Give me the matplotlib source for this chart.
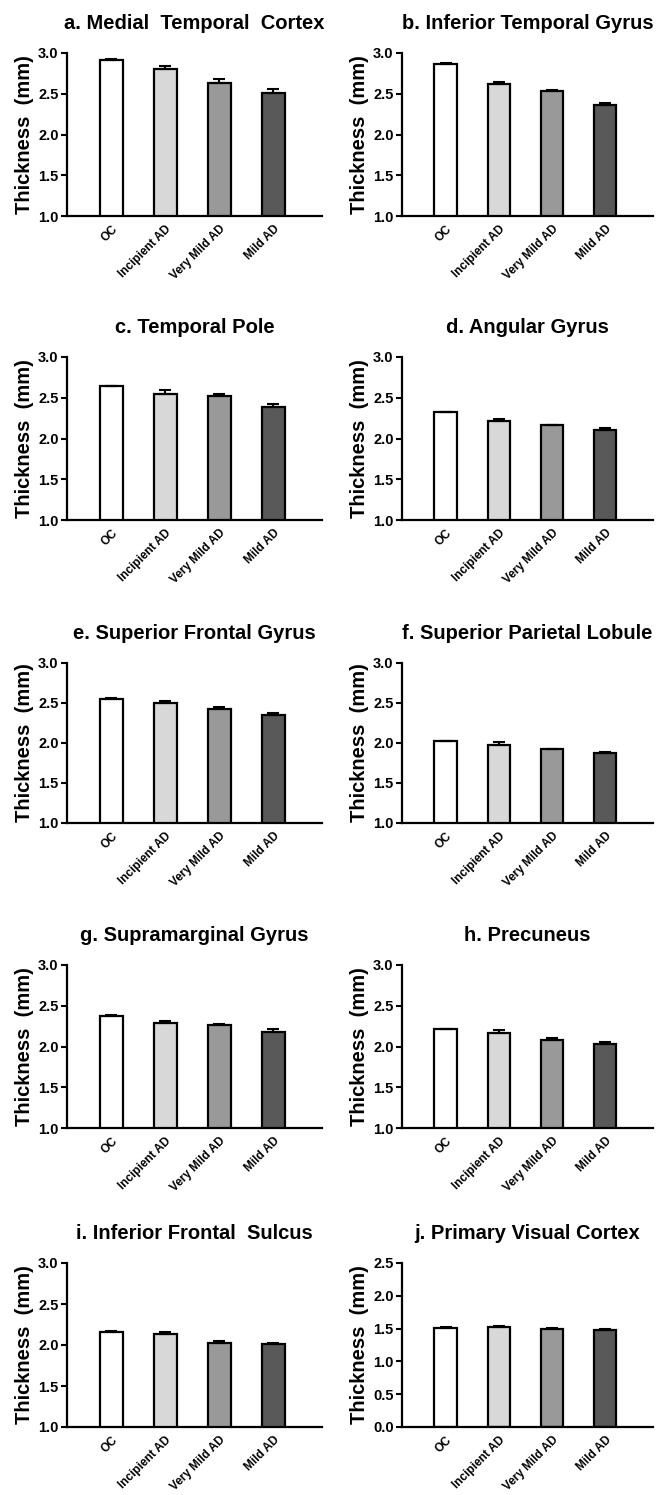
import numpy as np
import matplotlib.pyplot as plt

### GROUPS AND BAR COLOURS
groups = ['OC', 'Incipient AD', 'Very Mild AD', 'Mild AD']
bar_colors = ['#ffffff', '#d8d8d8', '#999999', '#595959']

### PANEL TITLES
letters = ['a.', 'b.', 'c.', 'd.', 'e.', 'f.', 'g.', 'h.', 'i.', 'j.']
regions = ['Medial  Temporal  Cortex', 'Inferior Temporal Gyrus', 'Temporal Pole',
           'Angular Gyrus', 'Superior Frontal Gyrus', 'Superior Parietal Lobule',
           'Supramarginal Gyrus', 'Precuneus', 'Inferior Frontal  Sulcus',
           'Primary Visual Cortex']

### MEAN THICKNESS (mm) PER PANEL
mtc = [2.91, 2.80, 2.63, 2.51]
itg = [2.86, 2.62, 2.53, 2.36]
tp = [2.64, 2.55, 2.52, 2.39]
ang = [2.32, 2.22, 2.16, 2.10]
sfg = [2.55, 2.50, 2.43, 2.35]
spl = [2.02, 1.98, 1.92, 1.87]
smg = [2.38, 2.29, 2.26, 2.18]
prec = [2.21, 2.16, 2.08, 2.03]
ifs = [2.16, 2.14, 2.03, 2.01]
v1 = [1.51, 1.52, 1.50, 1.48]

### STANDARD ERRORS (UPPER BARS ONLY)
mtc_err = [0.02, 0.04, 0.05, 0.05]
itg_err = [0.02, 0.03, 0.02, 0.03]
tp_err = [0.01, 0.04, 0.02, 0.03]
ang_err = [0.01, 0.02, 0.01, 0.03]
sfg_err = [0.01, 0.03, 0.02, 0.03]
spl_err = [0.01, 0.03, 0.01, 0.02]
smg_err = [0.01, 0.02, 0.02, 0.03]
prec_err = [0.01, 0.04, 0.03, 0.03]
ifs_err = [0.01, 0.02, 0.02, 0.02]
v1_err = [0.01, 0.02, 0.01, 0.02]

means = [mtc, itg, tp, ang, sfg, spl, smg, prec, ifs, v1]
errs = [mtc_err, itg_err, tp_err, ang_err, sfg_err, spl_err, smg_err, prec_err, ifs_err, v1_err]

### AXIS RANGES
ylims = [(1.0, 3.0)] * 9 + [(0.0, 2.5)]

plt.rcParams['font.family'] = ['Liberation Sans', 'DejaVu Sans']
plt.rcParams['font.weight'] = 'bold'

W, H = 665, 1495
fig = plt.figure(figsize=(W / 100, H / 100), dpi=100)

### AXES BOXES IN PIXELS (left, right, top, bottom)
col_x = [(67, 322), (402, 653)]
row_y = [(53, 216), (357, 520), (663, 823), (965, 1128), (1263, 1427)]

x = np.arange(len(groups))
for k in range(10):
  r, c = k // 2, k % 2
  l, rr = col_x[c]
  t, b = row_y[r]
  ax = fig.add_axes([l / W, 1 - b / H, (rr - l) / W, (b - t) / H])

  lo = np.zeros(len(groups))
  ax.bar(x, means[k], width=0.42, color=bar_colors, edgecolor='black', linewidth=1.6, zorder=2)
  ax.errorbar(x, means[k], yerr=[lo, errs[k]], fmt='none', ecolor='black',
              elinewidth=1.5, capsize=4, capthick=1.5, zorder=3)

  ax.set_ylim(*ylims[k])
  ax.set_yticks(np.arange(ylims[k][0], ylims[k][1] + 0.01, 0.5))
  ax.set_yticklabels(['%.1f' % v for v in ax.get_yticks()], fontsize=10.5, fontweight='bold')
  ax.set_xlim(-0.82, 3.9)
  ax.set_xticks(x)
  ax.set_xticklabels(groups, rotation=45, ha='right', rotation_mode='anchor',
                     fontsize=8.5, fontweight='bold')
  ax.tick_params(axis='x', length=0, pad=5)
  ax.tick_params(axis='y', length=4, width=1.5, direction='out', pad=2)

  for s in ['top', 'right']:
    ax.spines[s].set_visible(False)
  for s in ['left', 'bottom']:
    ax.spines[s].set_linewidth(1.6)

  ax.set_ylabel('Thickness  (mm)', fontsize=14.5, fontweight='bold', labelpad=3)
  ax.set_title(letters[k] + ' ' + regions[k], fontsize=14.5, fontweight='bold', pad=17)

fig.savefig('out.png', dpi=100)
